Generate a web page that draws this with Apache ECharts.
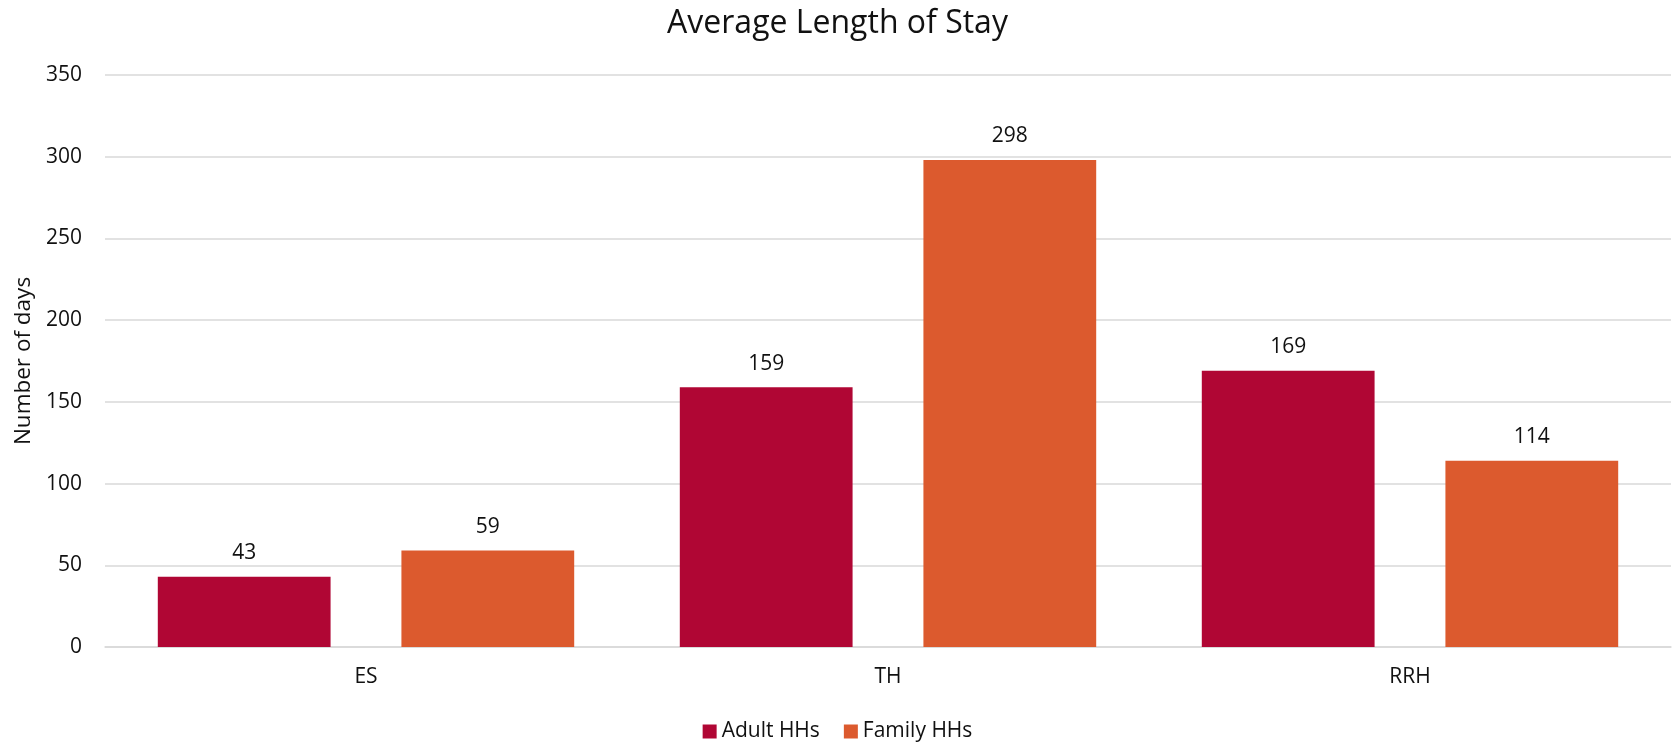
<!DOCTYPE html>
<html>
<head>
<meta charset="utf-8">
<script src="https://cdn.jsdelivr.net/npm/echarts@6/dist/echarts.min.js"></script>
<style>
html,body{margin:0;padding:0;background:#fff;}
#chart{width:1675px;height:746px;}
</style>
</head>
<body>
<div id="chart"></div>
<script>
const categories = ['ES', 'TH', 'RRH'];
const adultHHs = [43, 159, 169];
const familyHHs = [59, 298, 114];
const seriesNames = ['Adult HHs', 'Family HHs'];
const titleText = 'Average Length of Stay';
const yAxisName = 'Number of days';

const FONT = '"Open Sans", "Noto Sans", sans-serif';
const chart = echarts.init(document.getElementById('chart'), null, {renderer: 'canvas'});
const labelStyle = {
  show: true, position: 'top', distance: 13,
  color: '#111', fontFamily: FONT, fontSize: 21
};
chart.setOption({
  animation: false,
  backgroundColor: '#ffffff',
  title: {
    text: titleText, left: 'center', top: 3,
    textStyle: {fontFamily: FONT, fontSize: 32, fontWeight: 'normal', color: '#111'}
  },
  legend: {
    data: seriesNames, bottom: -1, left: 'center',
    itemWidth: 14, itemHeight: 14, itemGap: 24, icon: 'rect',
    textStyle: {fontFamily: FONT, fontSize: 21, color: '#111'}
  },
  grid: {left: 105, right: 4, top: 75, bottom: 99, containLabel: false},
  xAxis: {
    type: 'category', data: categories,
    axisLine: {show: true, lineStyle: {color: '#D9D9D9', width: 1.5}},
    axisTick: {show: false},
    axisLabel: {fontFamily: FONT, fontSize: 21, color: '#111', margin: 20}
  },
  yAxis: {
    type: 'value', min: 0, max: 350, interval: 50,
    name: yAxisName, nameLocation: 'middle', nameGap: 68, nameRotate: 90,
    nameTextStyle: {fontFamily: FONT, fontSize: 22.5, color: '#111'},
    axisLine: {show: false}, axisTick: {show: false},
    axisLabel: {fontFamily: FONT, fontSize: 21, color: '#111', margin: 23},
    splitLine: {lineStyle: {color: '#D9D9D9', width: 1.5}}
  },
  series: [
    {name: seriesNames[0], type: 'bar', data: adultHHs, barWidth: '33.1%', barGap: '41%',
     itemStyle: {color: '#B00634'}, label: labelStyle},
    {name: seriesNames[1], type: 'bar', data: familyHHs, barWidth: '33.1%', barGap: '41%',
     itemStyle: {color: '#DC5A2E'}, label: labelStyle}
  ]
});
</script>
</body>
</html>
